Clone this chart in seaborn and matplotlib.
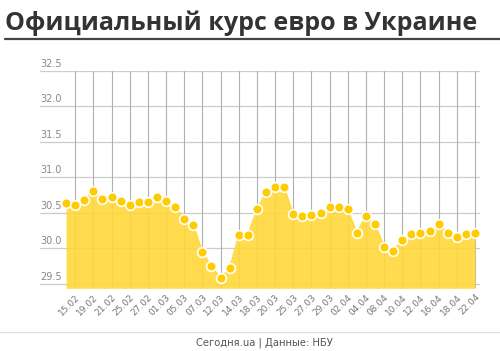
import matplotlib
matplotlib.use("Agg")
import matplotlib.pyplot as plt
import seaborn as sns
import numpy as np
import pandas as pd

dates = ["14.02", "15.02", "18.02", "19.02", "20.02", "21.02", "22.02", "25.02", "26.02", "27.02",
         "28.02", "01.03", "04.03", "05.03", "06.03", "07.03", "11.03", "12.03", "13.03", "14.03",
         "15.03", "18.03", "19.03", "20.03", "22.03", "25.03", "26.03", "27.03", "28.03", "29.03",
         "01.04", "02.04", "03.04", "04.04", "05.04", "08.04", "09.04", "10.04", "11.04", "12.04",
         "15.04", "16.04", "17.04", "18.04", "19.04", "22.04"]
rates = [30.64, 30.61, 30.68, 30.81, 30.70, 30.73, 30.67, 30.61, 30.66, 30.66,
         30.73, 30.67, 30.59, 30.42, 30.33, 29.95, 29.75, 29.59, 29.72, 30.19,
         30.19, 30.55, 30.79, 30.86, 30.86, 30.48, 30.45, 30.47, 30.50, 30.59,
         30.58, 30.55, 30.22, 30.46, 30.34, 30.02, 29.97, 30.12, 30.20, 30.22,
         30.25, 30.34, 30.22, 30.16, 30.20, 30.22]
y_ticks = [29.5, 30.0, 30.5, 31.0, 31.5, 32.0, 32.5]

df = pd.DataFrame({"i": np.arange(len(dates)), "date": dates, "rate": rates})

sns.set_style("white")
fig = plt.figure(figsize=(5, 3.51), dpi=100)
ax = fig.add_axes([0.08, 0.1786, 0.88, 0.62])

ymin = 29.44
ax.set_ylim(ymin, 32.5)
ax.set_xlim(-2.87, 45.55)

# grid
for v in y_ticks:
    ax.axhline(v, color="#cccccc", lw=0.9, zorder=1)
lab_idx = list(range(1, len(dates), 2))
for i in lab_idx:
    ax.plot([i, i], [ymin, 32.5], color="#b0b0b0", lw=0.8, zorder=1)

ax.fill_between(df["i"], df["rate"], ymin, color="#ffd83a", alpha=0.9, lw=0, zorder=2)
sns.lineplot(data=df, x="i", y="rate", ax=ax, color="#ffd83a", lw=1.0, zorder=3,
             marker="o", markersize=7, markerfacecolor="#ffcc00",
             markeredgecolor="white", markeredgewidth=1.2)

ax.set_xlabel("")
ax.set_ylabel("")
ax.set_yticks([])
ax.set_xticks(lab_idx)
ax.set_xticklabels([dates[i] for i in lab_idx], rotation=45, ha="right",
                   rotation_mode="anchor", fontsize=6.5, color="#777777")
ax.tick_params(axis="x", length=0, pad=3)
for s in ax.spines.values():
    s.set_visible(False)

for v in y_ticks:
    ax.text(0.0, v + 0.03, f"{v:.1f}", transform=ax.get_yaxis_transform(),
            ha="left", va="bottom", fontsize=7, color="#888888")

# title
fig.text(0.01, 1 - 30 / 351, "Официальный курс евро в Украине", fontsize=18,
         fontweight="bold", color="#333333", family="Open Sans", ha="left", va="baseline")
fig.add_artist(plt.Line2D([0.01, 1.0], [1 - 38.5 / 351] * 2, color="#444444", lw=1.6))

# footer
fig.add_artist(plt.Line2D([0.0, 1.0], [1 - 332 / 351] * 2, color="#dddddd", lw=0.8))
fig.text(0.528, 1 - 343 / 351, "Сегодня.ua | Данные: НБУ", fontsize=7.2, color="#555555",
         ha="center", va="center")

fig.savefig("out.png", dpi=100)
